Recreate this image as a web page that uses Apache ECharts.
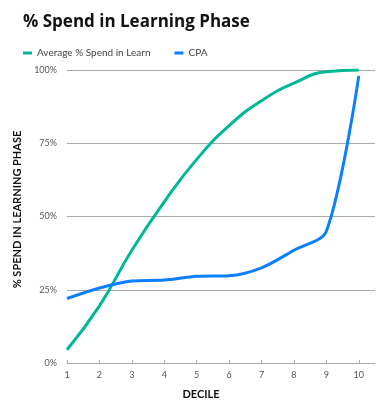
<!DOCTYPE html>
<html>
<head>
<meta charset="utf-8">
<script src="https://cdn.jsdelivr.net/npm/echarts@6/dist/echarts.min.js"></script>
<style>html,body{margin:0;padding:0;background:#fff}#c{width:381px;height:405px}</style>
</head>
<body>
<div id="c"></div>
<script>
const deciles = [1, 2, 3, 4, 5, 6, 7, 8, 9, 10];
const avgSpend = [4.5, 19.5, 38.5, 55, 69.5, 81, 89.5, 95.5, 99.4, 100];
const cpa = [22, 25.6, 28, 28.3, 29.6, 29.8, 32.5, 38.5, 45, 98];
const yTicks = [0, 25, 50, 75, 100];

const chart = echarts.init(document.getElementById('c'));
const font = 'Lato, "Open Sans", sans-serif';
chart.setOption({
  animation: false,
  title: {
    text: '% Spend in Learning Phase',
    left: 18, top: 9,
    textStyle: { fontFamily: '"Open Sans", sans-serif', fontWeight: 'bold', fontSize: 17, color: '#111' }
  },
  legend: {
    left: 18, top: 43,
    itemWidth: 9, itemHeight: 3, itemGap: 24,
    icon: 'rect',
    textStyle: { fontFamily: font, fontSize: 10, color: '#444' },
    data: ['Average % Spend in Learn', 'CPA']
  },
  grid: { left: 67, right: 6, top: 70, bottom: 42, containLabel: false },
  xAxis: {
    type: 'value', min: 1, max: 10.5, interval: 1,
    name: 'DECILE', nameLocation: 'middle', nameGap: 26,
    nameTextStyle: { fontFamily: font, fontWeight: 'bold', fontSize: 11, color: '#111', padding: [0, 40, 0, 0] },
    axisLine: { show: true, lineStyle: { color: '#aaa' } },
    axisTick: { show: true, customValues: deciles, length: 3, inside: true, lineStyle: { color: '#aaa' } },
    axisLabel: { customValues: deciles, fontFamily: font, fontSize: 9, color: '#555', margin: 8 },
    splitLine: { show: false }
  },
  yAxis: {
    type: 'value', min: 0, max: 100, interval: 25,
    name: '% SPEND IN LEARNING PHASE', nameLocation: 'middle', nameGap: 36, nameRotate: 90,
    nameTextStyle: { fontFamily: font, fontWeight: 'bold', fontSize: 11, color: '#111', padding: [0, 0, 0, 14] },
    axisLine: { show: false }, axisTick: { show: false },
    axisLabel: { customValues: yTicks, formatter: v => v + '%', fontFamily: font, fontSize: 9, color: '#555', margin: 10 },
    splitLine: { lineStyle: { color: '#aaa', width: 1 } }
  },
  series: [
    {
      name: 'Average % Spend in Learn', type: 'line', smooth: 0.5,
      showSymbol: false, symbol: 'none',
      lineStyle: { width: 3, color: '#00b896' }, itemStyle: { color: '#00b896' },
      data: deciles.map((d, i) => [d, avgSpend[i]])
    },
    {
      name: 'CPA', type: 'line', smooth: 0.3,
      showSymbol: false, symbol: 'none',
      lineStyle: { width: 3, color: '#0a80ff' }, itemStyle: { color: '#0a80ff' },
      data: deciles.map((d, i) => [d, cpa[i]])
    }
  ]
});
</script>
</body>
</html>
